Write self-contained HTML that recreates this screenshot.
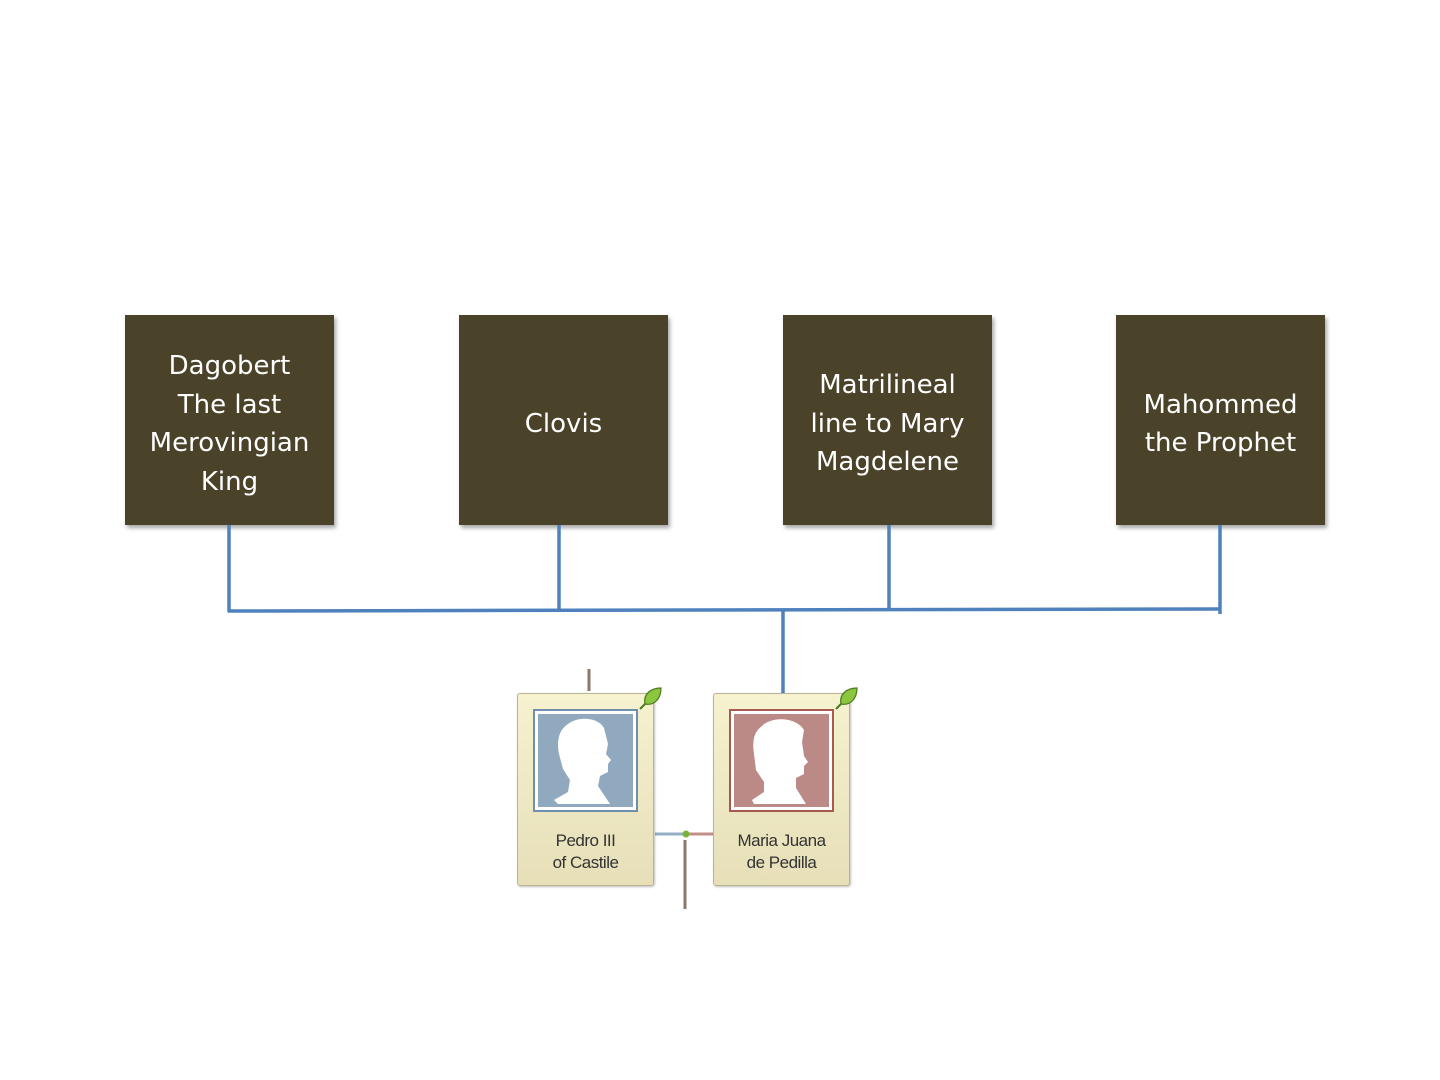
<!DOCTYPE html>
<html><head><meta charset="utf-8"><style>
body{margin:0;width:1440px;height:1080px;background:#fff;position:relative;overflow:hidden;font-family:"Liberation Sans",sans-serif}
.b{position:absolute;top:315px;width:209px;height:202px;padding-top:8px;background:#4a4229;color:#fff;display:flex;align-items:center;justify-content:center;text-align:center;font-family:"DejaVu Sans","Liberation Sans",sans-serif;font-size:26px;line-height:38.5px;box-shadow:2px 3px 4px rgba(0,0,0,.35)}
.card{position:absolute;top:693px;width:135px;height:191px;background:linear-gradient(#f6f2cf,#e6dfb8);border:1px solid #b9b391;border-radius:3px;box-shadow:1px 1px 2px rgba(0,0,0,.25)}
.fr{position:absolute;left:15px;top:15px;width:95px;height:93px;border:2px solid;background:#fff;padding:3px}
.ph{width:95px;height:93px;position:relative;overflow:hidden}
.nm{position:absolute;left:0;right:0;top:136px;text-align:center;font-size:17px;line-height:22px;color:#333;letter-spacing:-.5px}
.leaf{position:absolute;right:-10px;top:-8px}
</style></head><body>
<div class="b" style="left:125px">Dagobert<br>The last<br>Merovingian<br>King</div>
<div class="b" style="left:459px">Clovis</div>
<div class="b" style="left:783px">Matrilineal<br>line to Mary<br>Magdelene</div>
<div class="b" style="left:1116px">Mahommed<br>the Prophet</div>
<svg style="position:absolute;left:0;top:0" width="1440" height="1080">
<g stroke="#4f81bd" stroke-width="3.5" fill="none">
<line x1="229" y1="525" x2="229" y2="612"/><line x1="559" y1="525" x2="559" y2="612"/>
<line x1="889" y1="525" x2="889" y2="611"/><line x1="1220" y1="525" x2="1220" y2="614"/>
<line x1="228" y1="611" x2="1220" y2="609"/><line x1="783" y1="610" x2="783" y2="694"/>
</g>
<line x1="589" y1="669" x2="589" y2="691" stroke="#8a7868" stroke-width="3"/>
<line x1="655" y1="834" x2="684" y2="834" stroke="#94aec6" stroke-width="3"/>
<line x1="688" y1="834" x2="713" y2="834" stroke="#c09088" stroke-width="3"/>
<line x1="685" y1="840" x2="685" y2="909" stroke="#8a7868" stroke-width="3"/>
<circle cx="686" cy="834" r="3.5" fill="#7ab33a"/>
</svg>
<div class="card" style="left:517px">
<div class="fr" style="border-color:#6f8fae"><div class="ph" style="background:#91a9bf">
<svg width="95" height="93" viewBox="0 0 95 93"><path d="M30 10 C40 2 60 3 66 14 L70 30 L68 40 L73 46 L70 50 L70 58 L62 62 L60 72 L72 90 L20 90 L16 86 L30 78 L32 66 L25 55 L21 40 C18 25 22 15 30 10Z" fill="#fff"/></svg></div></div>
<div class="nm">Pedro III<br>of Castile</div>
<svg class="leaf" width="26" height="26" viewBox="0 0 26 26"><path d="M3 23 L9 17" stroke="#4a7a20" stroke-width="2"/><path d="M8 18 C6 8 14 2 24 2 C24 12 18 20 8 18Z" fill="#8cc63f" stroke="#4a7a20" stroke-width="1.2"/></svg>
</div>
<div class="card" style="left:713px">
<div class="fr" style="border-color:#a65a50"><div class="ph" style="background:#bc8a86">
<svg width="95" height="93" viewBox="0 0 95 93"><path d="M28 12 C38 2 62 3 70 16 L68 28 L70 42 L74 48 L70 52 L70 60 L62 64 L62 74 L72 90 L20 90 L18 86 L30 78 L30 68 L22 56 L20 40 C18 26 20 18 28 12Z" fill="#fff"/></svg></div></div>
<div class="nm">Maria Juana<br>de Pedilla</div>
<svg class="leaf" width="26" height="26" viewBox="0 0 26 26"><path d="M3 23 L9 17" stroke="#4a7a20" stroke-width="2"/><path d="M8 18 C6 8 14 2 24 2 C24 12 18 20 8 18Z" fill="#8cc63f" stroke="#4a7a20" stroke-width="1.2"/></svg>
</div>
</body></html>
